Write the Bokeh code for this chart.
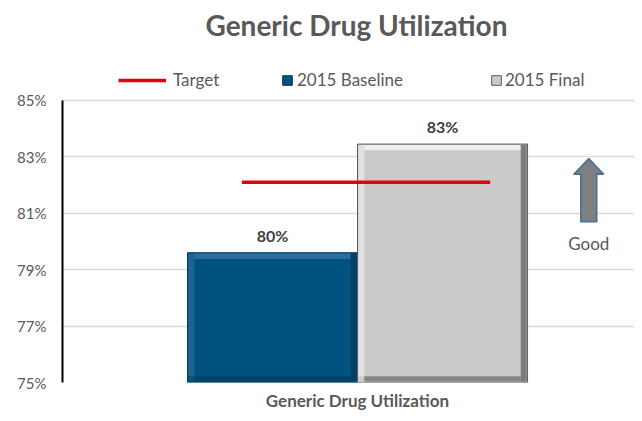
from bokeh.plotting import figure
from bokeh.models import (Range1d, FixedTicker, Legend, LegendItem)
from bokeh.core.properties import value
from bokeh.embed import file_html
from bokeh.resources import INLINE

# ---- data ----
category = "Generic Drug Utilization"
series = ["2015 Baseline", "2015 Final"]
series_values = [79.6, 83.45]
series_labels = ["80%", "83%"]
target_label = "Target"
target_value = 82.1
y_ticks = [75, 77, 79, 81, 83, 85]
y_tick_labels = ["75%", "77%", "79%", "81%", "83%", "85%"]
good_label = "Good"
arrow_from, arrow_to = 80.70, 82.94
good_label_y = 79.93

# ---- layout / style constants ----
offsets = [-0.5, 0.5]
bar_width = 1.0
colors = ["#02527f", "#cacaca"]
hi_colors = ["#2d6f9c", "#efefef"]
dark_colors = ["#00395c", "#5a5a5a"]
target_span = [-0.68, 0.78]
arrow_x = 1.36
shaft_half = 0.047
head_half = 0.088
head_len = 0.56
FONT = "Lato"
TXT = "#595959"
y_top = 86.908

p = figure(width=634, height=413, output_backend="svg", toolbar_location=None,
           x_range=Range1d(-1.735, 1.629), y_range=Range1d(y_ticks[0], y_top),
           min_border_left=62, min_border_right=0, min_border_top=45,
           min_border_bottom=31, title=category)
p.outline_line_color = None
p.background_fill_color = "white"

# title
p.title.align = "left"
p.title.offset = 143
p.title.text_font = FONT
p.title.text_font_size = "28px"
p.title.text_font_style = "bold"
p.title.text_color = TXT
p.title.standoff = 10

# y axis
p.yaxis.ticker = FixedTicker(ticks=y_ticks)
p.yaxis.bounds = (y_ticks[0], y_ticks[-1])
p.yaxis.major_label_overrides = {t: l for t, l in zip(y_ticks, y_tick_labels)}
p.yaxis.major_label_text_font = FONT
p.yaxis.major_label_text_font_size = "15px"
p.yaxis.major_label_text_color = TXT
p.yaxis.axis_line_color = "#000000"
p.yaxis.axis_line_width = 2
p.yaxis.major_tick_line_color = None
p.yaxis.major_tick_out = 0
p.yaxis.major_tick_in = 0
p.yaxis.minor_tick_line_color = None
p.yaxis.major_label_standoff = 16

# x axis
p.xaxis.ticker = FixedTicker(ticks=[0])
p.xaxis.major_label_overrides = {0: category}
p.xaxis.major_label_text_font = FONT
p.xaxis.major_label_text_font_size = "17px"
p.xaxis.major_label_text_font_style = "bold"
p.xaxis.major_label_text_color = TXT
p.xaxis.axis_line_color = None
p.xaxis.major_tick_line_color = None
p.xaxis.major_tick_out = 0
p.xaxis.major_tick_in = 0
p.xaxis.minor_tick_line_color = None
p.xaxis.major_label_standoff = 7

p.xgrid.grid_line_color = None
p.ygrid.ticker = FixedTicker(ticks=y_ticks)
p.ygrid.grid_line_color = "#d9d9d9"
p.ygrid.grid_line_width = 1.5

# bars with bevel
bar_renderers = []
bev_y = 0.22
bev_x = 0.04
for i in range(2):
    x = offsets[i]
    v = series_values[i]
    r = p.vbar(x=[x], top=[v], bottom=[y_ticks[0]], width=bar_width,
               fill_color=colors[i], line_color=dark_colors[i], line_width=1)
    bar_renderers.append(r)
    l, rr = x - bar_width / 2, x + bar_width / 2
    p.quad(left=[l + bev_x], right=[rr - bev_x], top=[v - 0.03], bottom=[v - bev_y],
           fill_color=hi_colors[i], line_color=None)
    p.quad(left=[l + 0.005], right=[l + bev_x], top=[v - 0.03], bottom=[y_ticks[0] + bev_y],
           fill_color=hi_colors[i], line_color=None, fill_alpha=0.6)
    p.quad(left=[rr - bev_x], right=[rr - 0.005], top=[v - 0.03], bottom=[y_ticks[0] + 0.03],
           fill_color=dark_colors[i], line_color=None, fill_alpha=0.7)
    p.quad(left=[l + bev_x], right=[rr - bev_x], top=[y_ticks[0] + bev_y], bottom=[y_ticks[0] + 0.03],
           fill_color=dark_colors[i], line_color=None, fill_alpha=0.6)

# value labels
p.text(x=offsets, y=series_values, text=series_labels, text_align="center",
       text_baseline="bottom", y_offset=-8, text_font=value(FONT),
       text_font_size="16px", text_font_style="bold", text_color="#404040")

# target line
tline = p.line(x=target_span, y=[target_value, target_value], line_color="#e3000f",
               line_width=3.5)

# "Good" arrow
ax = arrow_x
hb = arrow_to - head_len
p.patch(x=[ax - shaft_half, ax - shaft_half, ax - head_half, ax, ax + head_half,
           ax + shaft_half, ax + shaft_half],
        y=[arrow_from, hb, hb, arrow_to, hb, hb, arrow_from],
        fill_color="#7f7f7f", line_color="#41719c", line_width=1.5)
p.text(x=[arrow_x], y=[good_label_y], text=[good_label], text_align="center",
       text_baseline="middle", text_font=value(FONT), text_font_size="17px",
       text_color=TXT)

# legends (inside the frame, above the 85% line)
def mk_legend(label, rend, loc, gw, gh, standoff):
    lg = Legend(items=[LegendItem(label=label, renderers=[rend])], location=loc,
                orientation="horizontal", glyph_width=gw, glyph_height=gh,
                label_height=gh, label_standoff=standoff, padding=0, margin=0,
                border_line_color=None, background_fill_alpha=0,
                label_text_font=FONT, label_text_font_size="17px",
                label_text_color=TXT, label_text_baseline="middle")
    p.add_layout(lg, "center")

mk_legend(target_label, tline, (56, 292), 48, 12, 7)
mk_legend(series[0], bar_renderers[0], (219, 292), 12, 12, 4)
mk_legend(series[1], bar_renderers[1], (428, 292), 12, 12, 3)

open("out.html", "w").write(file_html(p, INLINE))
